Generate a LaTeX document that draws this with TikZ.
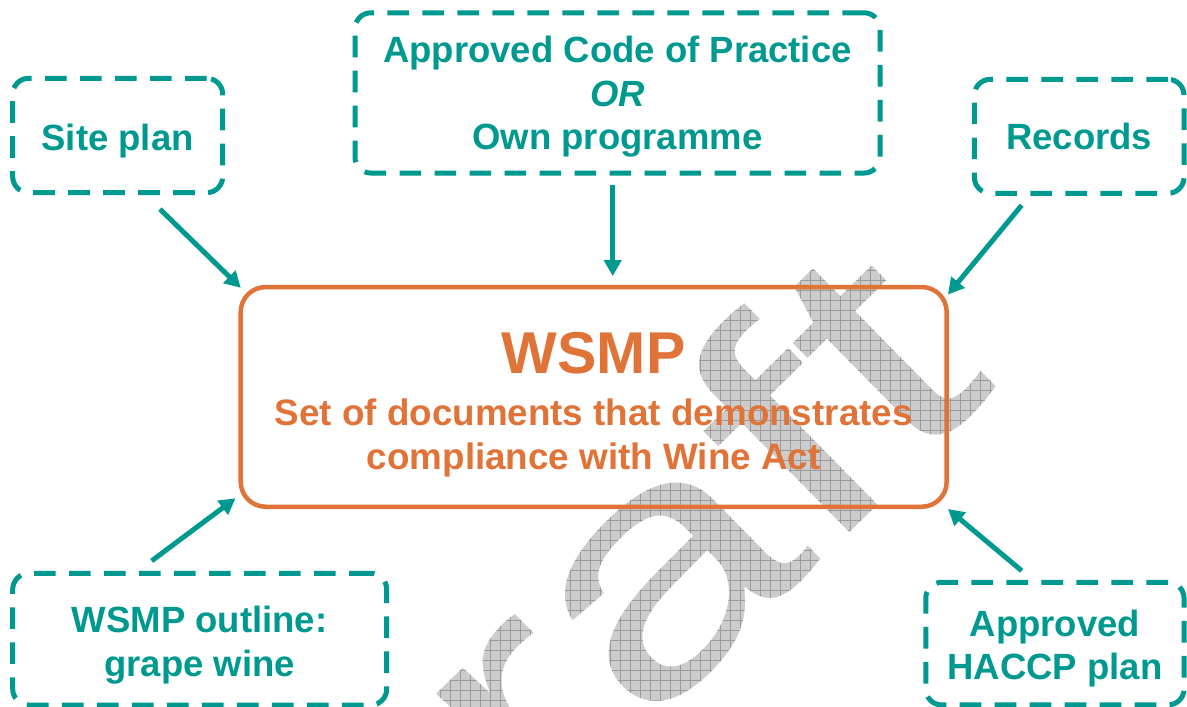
\documentclass[tikz,border=0pt]{standalone}
\usepackage{fontspec}
\setmainfont{Liberation Sans}
\usepackage{xcolor}
\usepackage{tikz}
\usetikzlibrary{arrows.meta,positioning,fadings}

\definecolor{wsmpTeal}{RGB}{0,153,143}
\definecolor{wsmpOrange}{RGB}{224,116,56}
\definecolor{draftGrey}{RGB}{204,204,204}
\definecolor{draftLine}{RGB}{155,155,155}

% room above the first line, pushes the text down in its box
\newcommand{\padTop}[1]{\rule{0pt}{#1}}

\tikzset{
  dashBox/.style={
    rectangle,
    rounded corners=16pt,
    draw=wsmpTeal,
    line width=5pt,
    dash pattern=on 21.7pt off 13.3pt,
    text=wsmpTeal,
    font=\fontsize{36.5}{43.5}\selectfont\bfseries,
    align=center,
    inner sep=0pt
  },
  mainBox/.style={
    rectangle,
    rounded corners=25pt,
    draw=wsmpOrange,
    line width=4.5pt,
    text=wsmpOrange,
    font=\fontsize{36.8}{44}\selectfont\bfseries,
    align=center,
    inner sep=0pt
  },
  arrowLine/.style={
    -{Triangle[length=16pt,width=17pt]},
    draw=wsmpTeal,
    line width=5pt
  },
  stampText/.style={
    text=transparent!0,
    font=\fontsize{330}{330}\selectfont,
    inner sep=0pt,
    rotate=44.5,
    xscale=1.36
  }
}

% stretched draft stamp, used as a mask for the hatched fill
% (mask is centred on the origin, i.e. the top left corner of the page)
\begin{tikzfadingfrompicture}[name=draftFade]
  \useasboundingbox (-1200pt,-1200pt) rectangle (1200pt,1200pt);
  \node[stampText, anchor=base east] (draftMask) at (1000pt,-385pt) {Draft};
\end{tikzfadingfrompicture}

\begin{document}
\begin{tikzpicture}[x=1pt,y=-1pt]
  \useasboundingbox (0,0) rectangle (1187,707);

  % draft stamp behind everything
  \fill[draftGrey, path fading=draftFade, fit fading=false] (0,0) rectangle (1187,707);
  \draw[draftLine, line width=0.8pt, path fading=draftFade, fit fading=false]
    (0pt,-710pt) grid[step=10pt] (1190pt,0pt);

  \node[mainBox, minimum width=706pt, minimum height=219.7pt] (wsmp) at (593.7,396.9)
    {{\fontsize{59}{59}\selectfont\padTop{57pt}WSMP}\\[8.3pt]
     Set of documents that demonstrates\\
     compliance with Wine Act};

  \node[dashBox, minimum width=210pt, minimum height=114.4pt] (sitePlan) at (117.7,135.5)
    {\padTop{36.6pt}Site plan};
  \node[dashBox, minimum width=525pt, minimum height=160.3pt] (codePractice) at (617.5,92.9)
    {\padTop{34.6pt}Approved Code of Practice\\\textit{OR}\\Own programme};
  \node[dashBox, minimum width=209.7pt, minimum height=114pt] (records) at (1079.2,136.3) {Records};
  \node[dashBox, minimum width=374pt, minimum height=131.7pt] (outline) at (199.7,639.2)
    {\padTop{38.6pt}WSMP outline:\\grape wine};
  \node[dashBox, minimum width=258.3pt, minimum height=122.7pt] (haccp) at (1054.9,643.6)
    {\padTop{36.6pt}Approved\\HACCP plan};

  % everything feeds into the WSMP
  \draw[arrowLine] ([xshift=42.3pt,yshift=-14pt]sitePlan.south) -- ([xshift=2.3pt,yshift=-3pt]wsmp.north west);
  \draw[arrowLine] ([xshift=-4.8pt,yshift=-9.7pt]codePractice.south) -- ([xshift=19pt,yshift=8.7pt]wsmp.north);
  \draw[arrowLine] ([xshift=-57.5pt,yshift=-9.4pt]records.south) -- ([xshift=-1pt,yshift=-9.7pt]wsmp.north east);
  \draw[arrowLine] ([xshift=-48pt,yshift=10pt]outline.north) -- ([xshift=-3pt,yshift=10.7pt]wsmp.south west);
  \draw[arrowLine] ([xshift=-33.2pt,yshift=9pt]haccp.north) -- ([xshift=-1pt]wsmp.south east);
\end{tikzpicture}
\end{document}
